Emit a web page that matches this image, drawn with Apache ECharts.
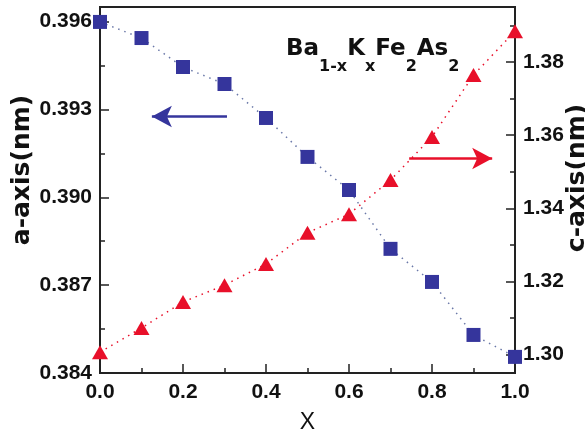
<!DOCTYPE html>
<html>
<head>
<meta charset="utf-8">
<script src="https://cdn.jsdelivr.net/npm/echarts@6/dist/echarts.min.js"></script>
<style>html,body{margin:0;padding:0;background:#fff;}#c{width:585px;height:434px;}</style>
</head>
<body>
<div id="c"></div>
<script>
// x = K content
var xValues = [0.0, 0.1, 0.2, 0.3, 0.4, 0.5, 0.6, 0.7, 0.8, 0.9, 1.0];
// a-axis lattice parameter (nm), left axis
var aAxis = [0.39599, 0.39544, 0.39445, 0.39387, 0.39271, 0.39138, 0.39025, 0.38824, 0.38711, 0.38530, 0.38455];
// c-axis lattice parameter (nm), right axis
var cAxis = [1.3007, 1.3073, 1.3144, 1.3190, 1.3248, 1.3333, 1.3384, 1.3477, 1.3595, 1.3764, 1.3884];
// tick labels
var leftTicks = [0.384, 0.387, 0.390, 0.393, 0.396];
var leftMinor = [0.3855, 0.3885, 0.3915, 0.3945];
var rightTicks = [1.30, 1.32, 1.34, 1.36, 1.38];
var rightMinor = [1.31, 1.33, 1.35, 1.37, 1.39];
// arrow annotations [x, y]
var aArrow = [[0.306, 0.39276], [0.125, 0.39276]];
var cArrow = [[0.745, 1.3536], [0.945, 1.3536]];

var tickFont = '"Liberation Sans", Arial, sans-serif';
var blue = '#35359c';
var red = '#e8102a';
var axisColor = '#222';

function pairs(xs, ys) { return xs.map(function (x, i) { return [x, ys[i]]; }); }

var chart = echarts.init(document.getElementById('c'));
var labelStyle = { color: '#111', fontFamily: tickFont, fontWeight: 'bold', fontSize: 21 };

function majorY(pos, min, max, ticks, digits) {
  return {
    type: 'value', position: pos, min: min, max: max,
    axisLine: { show: true, lineStyle: { color: axisColor, width: 2 } },
    axisTick: { show: true, inside: true, length: 9, customValues: ticks, lineStyle: { color: axisColor, width: 1.5 } },
    axisLabel: Object.assign({ margin: 8, customValues: ticks, formatter: function (v) { return v.toFixed(digits); } }, labelStyle),
    splitLine: { show: false }
  };
}
function minorY(pos, min, max, ticks) {
  return {
    type: 'value', position: pos, min: min, max: max,
    axisLine: { show: false },
    axisTick: { show: true, inside: true, length: 5, customValues: ticks, lineStyle: { color: axisColor, width: 1.5 } },
    axisLabel: { show: false },
    splitLine: { show: false }
  };
}

var option = {
  animation: false,
  backgroundColor: '#fff',
  grid: { left: 100, right: 70, top: 7, bottom: 61, outerBoundsMode: 'none', containLabel: false,
          show: true, borderColor: axisColor, borderWidth: 2, backgroundColor: 'transparent' },
  xAxis: {
    type: 'value', min: 0, max: 1, interval: 0.2,
    name: 'X', nameLocation: 'middle', nameGap: 38,
    nameTextStyle: { color: '#111', fontFamily: '"Liberation Sans", Arial, sans-serif', fontSize: 23 },
    axisLine: { show: true, lineStyle: { color: axisColor, width: 2 } },
    axisTick: { show: true, inside: true, length: 9, lineStyle: { color: axisColor, width: 1.5 } },
    minorTick: { show: true, splitNumber: 2, length: 5, lineStyle: { color: axisColor, width: 1.5 } },
    axisLabel: Object.assign({ margin: 9, formatter: function (v) { return v.toFixed(1); } }, labelStyle),
    splitLine: { show: false }
  },
  yAxis: [
    majorY('left', 0.384, 0.3965, leftTicks, 3),
    minorY('left', 0.384, 0.3965, leftMinor),
    majorY('right', 1.295, 1.395, rightTicks, 2),
    minorY('right', 1.295, 1.395, rightMinor)
  ],
  graphic: [
    { type: 'text', x: 22, y: 170, rotation: Math.PI / 2,
      style: { text: 'a-axis(nm)', align: 'center', verticalAlign: 'middle', fill: '#111', font: 'bold 25px "DejaVu Sans", sans-serif' } },
    { type: 'text', x: 577, y: 178, rotation: Math.PI / 2,
      style: { text: 'c-axis(nm)', align: 'center', verticalAlign: 'middle', fill: '#111', font: 'bold 25px "DejaVu Sans", sans-serif' } },
    { type: 'text', x: 286, y: 24,
      style: {
        text: '{m|Ba}{s|1-x}{m|K}{s|x}{m|Fe}{s|2}{m|As}{s|2}',
        rich: {
          m: { fontSize: 23, fontWeight: 'bold', fontFamily: '"DejaVu Sans", sans-serif', lineHeight: 51, verticalAlign: 'middle', fill: '#111' },
          s: { fontSize: 16, fontWeight: 'bold', fontFamily: '"DejaVu Sans", sans-serif', lineHeight: 16, verticalAlign: 'bottom', fill: '#111' }
        }
      } }
  ],
  series: [
    {
      name: 'a', type: 'line', yAxisIndex: 0, data: pairs(xValues, aAxis),
      symbol: 'rect', symbolSize: 14, itemStyle: { color: blue },
      lineStyle: { color: '#6a78a8', width: 1.5, type: [1.5, 5] },
      markLine: {
        silent: true, animation: false, symbol: ['none', 'arrow'], symbolSize: [16, 20],
        label: { show: false },
        lineStyle: { color: blue, width: 2.5, type: 'solid' },
        data: [[{ coord: aArrow[0] }, { coord: aArrow[1] }]]
      }
    },
    {
      name: 'c', type: 'line', yAxisIndex: 2, data: pairs(xValues, cAxis),
      symbol: 'triangle', symbolSize: [16, 14], itemStyle: { color: red },
      lineStyle: { color: red, width: 1.5, type: [1.5, 5] },
      markLine: {
        silent: true, animation: false, symbol: ['none', 'arrow'], symbolSize: [16, 20],
        label: { show: false },
        lineStyle: { color: red, width: 2.5, type: 'solid' },
        data: [[{ coord: cArrow[0] }, { coord: cArrow[1] }]]
      }
    }
  ]
};
chart.setOption(option);
</script>
</body>
</html>
